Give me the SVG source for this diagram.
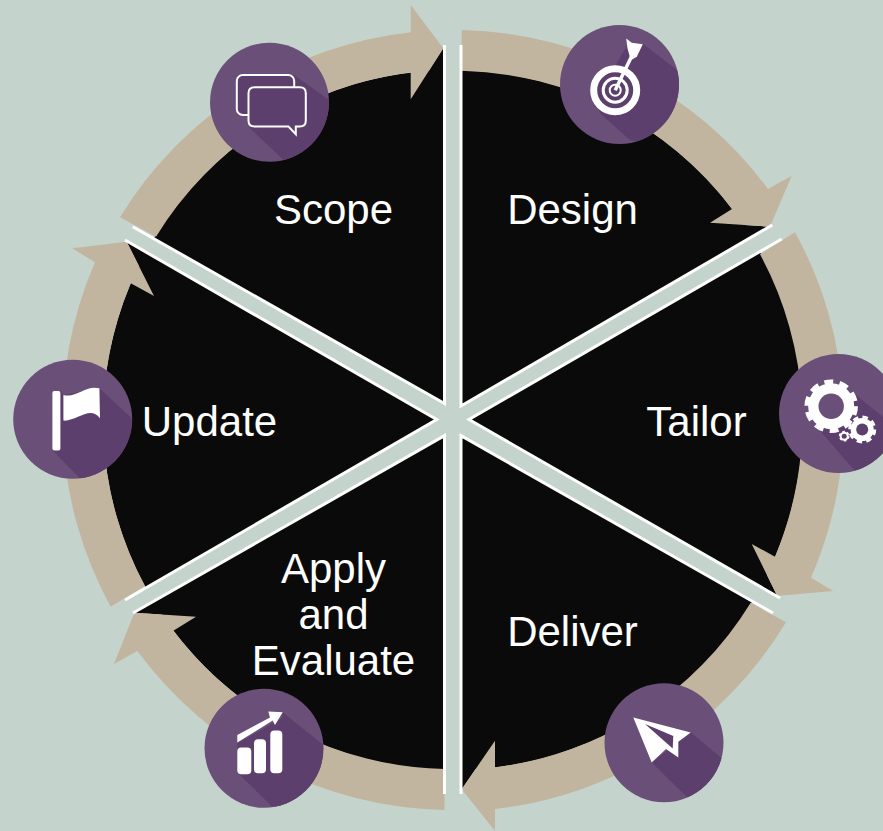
<svg xmlns="http://www.w3.org/2000/svg" width="883" height="831" viewBox="0 0 883 831">
<style>
.disc{fill:#6A4F78}
.shade{fill:#5C3F6C}
.w{fill:#fff}
.arrow{fill:#C2B59F}
.edge{stroke:#fff;stroke-width:3;fill:none}
.lbl{font-family:"Liberation Sans",Arial,sans-serif;font-size:42px;fill:#fff;text-anchor:middle}
.ring{fill:none;stroke:#fff}
</style>
<defs><clipPath id="c"><circle cx="0" cy="0" r="59.5"/></clipPath></defs>
<rect width="883" height="831" fill="#C4D4CD"/>
<g id="wheel" fill="#0A0A0A">
<circle cx="453" cy="420" r="350"/>
<polygon points="453,420 443.3,48.3 410.7,99.3"/>
<polygon points="453,420 770,226.7 710,222.7"/>
<polygon points="453,420 777.3,596 751.7,544"/>
<polygon points="453,420 461.7,789.3 495,740.7"/>
<polygon points="453,420 134.3,612.7 196,616.7"/>
<polygon points="453,420 126.7,241.7 154,296"/>
</g>
<g id="connectors" class="arrow">
<path d="M120,217.3A391,391 0 0 1 410.7,32.3L410.7,5L443.3,48.3L410.7,99.3L410.7,72.3A350,350 0 0 0 156,236.7Z"/>
<path d="M461.7,30A391,391 0 0 1 768,189L791.7,175.7L770,226.7L710,222.7L732,209A350,350 0 0 0 461.7,70.7Z"/>
<path d="M795,232.3A391,391 0 0 1 811,577.7L833.3,591L777.3,596L751.7,544L775,556.7A350,350 0 0 0 760,254.3Z"/>
<path d="M786,622.3A391,391 0 0 1 495,809L495,831L461.7,789.3L495,740.7L495,767.3A350,350 0 0 0 750.7,602.7Z"/>
<path d="M444.5,810A391,391 0 0 1 137.3,651L114,664L134.3,612.7L196,616.7L173.3,630.7A350,350 0 0 0 444.5,769Z"/>
<path d="M110.7,606.7A391,391 0 0 1 95,262.3L72.3,248.3L126.7,241.7L154,296L130.7,283.3A350,350 0 0 0 145,586Z"/>
</g>
<g id="spokes">
<polygon fill="#C4D4CD" points="444.5,45 461,45 461,406 772.3,225 781.7,239 469,419.5 780,598 773,613 461,435.7 461,794 444.5,794 444.5,435.7 133,613 125,600 436.7,419.5 125,240 132.7,226.7 444.5,403.5"/>
<path class="edge" d="M444.5,45V403.5L132.7,226.7M461,45V406L772.3,225M781.7,239L469,419.5L780,598M773,613L461,435.7V794M444.5,794V435.7L133,613M125,600L436.7,419.5L125,240"/>
</g>
<g id="scope">
<g transform="translate(269.5,102.3)">
<circle class="disc" r="59.5"/>
<polygon class="shade" clip-path="url(#c)" points="24.7,-27.3 60,-2 60,60 14,57.7 -19.3,26 -21,12.7 -32.7,12.7 -32.7,-27.3"/>
<rect class="ring" stroke-width="2" x="-32.7" y="-27.3" width="57.4" height="40" rx="6"/>
<path fill="#5C3F6C" stroke="#fff" stroke-width="2" d="M-15,-15H30.3Q36.3,-15 36.3,-9V18.3Q36.3,24.3 30.3,24.3H26.3V32L19,24.3H-15Q-21,24.3 -21,18.3V-9Q-21,-15 -15,-15Z"/>
</g>
<text class="lbl" x="333.5" y="224">Scope</text>
</g>
<g id="design">
<g transform="translate(619.5,84.5)">
<circle class="disc" r="59.5"/>
<polygon class="shade" clip-path="url(#c)" points="8,-40 24,-40.3 60,-12.7 60,60 10.7,55.7 -19.3,29 -29,6 -4,-19"/>
<circle class="ring" cx="-4.3" cy="5.7" r="21.5" stroke-width="7"/>
<circle class="ring" cx="-4.3" cy="5.7" r="12" stroke-width="3"/>
<circle class="ring" cx="-4.3" cy="5.7" r="5.5" stroke-width="2"/>
<line x1="-4.3" y1="5.7" x2="13" y2="-30" stroke="#fff" stroke-width="3.5"/>
<polygon class="w" points="6.7,-46 12.3,-41.7 23.3,-40.3 17.3,-27.7 11.3,-24.3 8,-36"/>
</g>
<text class="lbl" x="572.5" y="224">Design</text>
</g>
<g id="tailor">
<g transform="translate(838.5,413.5)">
<circle class="disc" r="59.5"/>
<polygon class="shade" clip-path="url(#c)" points="17.7,-18.3 60,16 60,60 16,56.7 -19,16.7"/>
<circle class="w" cx="-7.3" cy="-7.3" r="23"/>
<circle cx="-7.3" cy="-7.3" r="24.5" fill="none" stroke="#fff" stroke-width="4.5" stroke-dasharray="9 6.4"/>
<circle class="disc" cx="-7.3" cy="-7.3" r="12.7"/>
<circle class="w" cx="23.7" cy="16" r="11.5"/>
<circle cx="23.7" cy="16" r="12.5" fill="none" stroke="#fff" stroke-width="3" stroke-dasharray="5.5 4.3"/>
<circle class="shade" cx="23.7" cy="16" r="6"/>
<circle class="w" cx="5.7" cy="22.7" r="4.5"/>
<circle cx="5.7" cy="22.7" r="4.5" fill="none" stroke="#fff" stroke-width="1.8" stroke-dasharray="2.5 2.2"/>
<circle class="shade" cx="5.7" cy="22.7" r="2.5"/>
</g>
<text class="lbl" x="696.5" y="436">Tailor</text>
</g>
<g id="deliver">
<g transform="translate(664,742.7)">
<circle class="disc" r="59.5"/>
<polygon class="shade" clip-path="url(#c)" points="26.7,-10.3 58,15.7 60,60 22.7,54 -12.3,19.7"/>
<polygon class="w" points="-30.7,-25.3 26.7,-10.3 14.3,-1 14.3,14.7 2,6.3 -12.3,19.7"/>
<polygon class="shade" points="-19,-18.7 9.3,-6.7 8.7,5.7"/>
</g>
<text class="lbl" x="572.5" y="646">Deliver</text>
</g>
<g id="apply">
<g transform="translate(264,748.3)">
<circle class="disc" r="59.5"/>
<polygon class="shade" clip-path="url(#c)" points="18.7,-36 59.3,-3.3 60,60 7.7,58 -25.7,25 -26.7,-5 18,-30"/>
<rect class="w" x="-26.7" y="-0.7" width="14" height="26.7" rx="4"/>
<rect class="w" x="-10" y="-9" width="12" height="34" rx="4"/>
<rect class="w" x="6.3" y="-17.7" width="12" height="42.7" rx="4"/>
<polygon class="w" points="-26.7,-13.3 6,-30.7 4.3,-36.7 18.7,-36 11,-23.3 8.7,-27.7 -26.7,-5.7"/>
</g>
<text class="lbl"><tspan x="333.5" y="583">Apply</tspan><tspan x="333.5" y="629">and</tspan><tspan x="333.5" y="675">Evaluate</tspan></text>
</g>
<g id="update">
<g transform="translate(72.7,419.3)">
<circle class="disc" r="59.5"/>
<polygon class="shade" clip-path="url(#c)" points="-9.3,-24.3 26.7,-31 59,-1 60,60 7.3,59 -20.3,31.3 -12.3,-28.3"/>
<rect class="w" x="-20.3" y="-28.3" width="8" height="59.6" rx="2"/>
<path class="w" d="M-9.3,-24.3C4,-21 12.3,-34.3 26.7,-31L27.3,-1C17.3,-14.3 4,2.3 -9.3,1.3Z"/>
</g>
<text class="lbl" x="209.5" y="436">Update</text>
</g>
</svg>
